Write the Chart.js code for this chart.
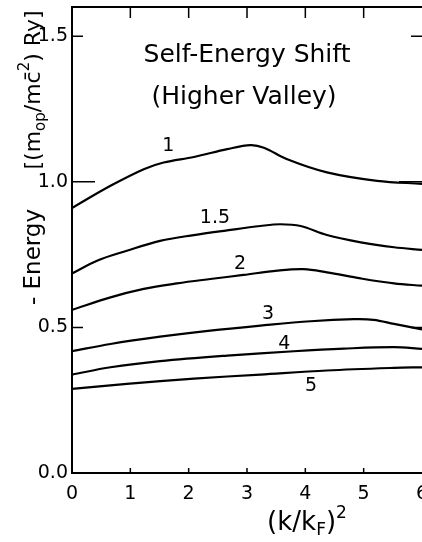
<!DOCTYPE html>
<html>
<head>
<meta charset="utf-8">
<script src="https://cdn.jsdelivr.net/npm/chart.js@4.4.0/dist/chart.umd.min.js"></script>
<style>
body{margin:0;background:#fff}
canvas{display:block}
</style>
</head>
<body>
<canvas id="myChart" width="422" height="542"></canvas>
<script>
// tick values
const xTicks = [0, 1, 2, 3, 4, 5, 6]
const yTicks = [0.0, 0.5, 1.0, 1.5]

// curves: (k/kF)^2 vs -Energy
const curveNames = ['1', '1.5', '2', '3', '4', '5']
const curve1X = [0, 0.66, 1.23, 1.57, 2.09, 2.66, 3.06, 3.29, 3.69, 4.37, 5.23, 6.0]
const curve1Y = [0.91, 0.986, 1.043, 1.066, 1.085, 1.112, 1.126, 1.117, 1.077, 1.032, 1.003, 0.993]
const curve15X = [0, 0.43, 0.94, 1.51, 2.09, 2.66, 3.23, 3.57, 3.92, 4.37, 4.95, 5.52, 6.0]
const curve15Y = [0.685, 0.729, 0.763, 0.797, 0.817, 0.833, 0.848, 0.854, 0.848, 0.817, 0.792, 0.775, 0.766]
const curve2X = [0, 0.66, 1.23, 1.8, 2.37, 2.94, 3.52, 3.97, 4.37, 4.95, 5.52, 6.0]
const curve2Y = [0.56, 0.603, 0.632, 0.651, 0.666, 0.68, 0.695, 0.70, 0.689, 0.668, 0.651, 0.643]
const curve3X = [0, 0.66, 1.51, 2.37, 3.23, 4.09, 4.83, 5.17, 5.52, 6.0]
const curve3Y = [0.418, 0.443, 0.468, 0.489, 0.506, 0.521, 0.528, 0.526, 0.512, 0.493]
const curve4X = [0, 0.66, 1.51, 2.66, 3.8, 4.66, 5.52, 6.0]
const curve4Y = [0.338, 0.363, 0.384, 0.403, 0.418, 0.427, 0.432, 0.426]
const curve5X = [0, 0.94, 2.09, 3.23, 4.37, 5.52, 6.0]
const curve5Y = [0.289, 0.306, 0.324, 0.338, 0.352, 0.361, 0.363]

// where each curve's number sits (data units)
const labelX = [1.65, 2.45, 2.88, 3.36, 3.64, 4.1]
const labelY = [1.123, 0.876, 0.719, 0.547, 0.441, 0.297]

const FONT = '"DejaVu Sans", sans-serif'
Chart.defaults.font.family = FONT
Chart.defaults.color = '#000'

function pts(xs, ys){
    return xs.map((x, i) => ({x: x, y: ys[i]}))
}

const allX = [curve1X, curve15X, curve2X, curve3X, curve4X, curve5X]
const allY = [curve1Y, curve15Y, curve2Y, curve3Y, curve4Y, curve5Y]

// draws text pieces along a line, with sub/superscripts
function drawPieces(ctx, pieces, x, y){
    let w = 0
    for(let p of pieces){
        ctx.font = p.size + 'px ' + FONT
        w += ctx.measureText(p.t).width
    }
    let cx = x - w / 2
    for(let p of pieces){
        ctx.font = p.size + 'px ' + FONT
        ctx.fillText(p.t, cx, y + (p.dy || 0))
        cx += ctx.measureText(p.t).width
    }
}

const decor = {
    id: 'decor',
    afterDraw(chart){
        const ctx = chart.ctx
        const a = chart.chartArea
        const xs = chart.scales.x, ys = chart.scales.y
        ctx.save()
        ctx.strokeStyle = '#000'
        ctx.fillStyle = '#000'

        // top frame line
        ctx.lineWidth = 2
        ctx.beginPath()
        ctx.moveTo(a.left - 1, a.top)
        ctx.lineTo(a.right, a.top)
        ctx.stroke()

        // inward ticks
        ctx.lineWidth = 1.5
        ctx.beginPath()
        for(let v of xTicks.slice(1, -1)){
            const px = xs.getPixelForValue(v)
            ctx.moveTo(px, a.bottom); ctx.lineTo(px, a.bottom - 5)
            ctx.moveTo(px, a.top); ctx.lineTo(px, a.top + 11)
        }
        for(let v of yTicks.slice(1)){
            const py = ys.getPixelForValue(v)
            const len = v === 1.0 ? 23 : 11
            ctx.moveTo(a.left, py); ctx.lineTo(a.left + len, py)
            ctx.moveTo(a.right, py); ctx.lineTo(a.right - len, py)
        }
        ctx.stroke()

        // title
        ctx.textAlign = 'center'
        ctx.textBaseline = 'middle'
        ctx.font = '25px ' + FONT
        ctx.fillText('Self-Energy Shift', 247, 55)
        ctx.fillText('(Higher Valley)', 244, 97)

        // curve numbers
        ctx.font = '19px ' + FONT
        curveNames.forEach((n, i) => {
            ctx.fillText(n, xs.getPixelForValue(labelX[i]), ys.getPixelForValue(labelY[i]))
        })

        // x axis title
        ctx.textAlign = 'left'
        ctx.textBaseline = 'alphabetic'
        drawPieces(ctx, [
            {t: '(k/k', size: 26},
            {t: 'F', size: 17, dy: 5},
            {t: ')', size: 26},
            {t: '2', size: 17, dy: -12}
        ], 307, 530)

        // y axis title, rotated
        ctx.translate(40, 0)
        ctx.rotate(-Math.PI / 2)
        drawPieces(ctx, [{t: '- Energy', size: 23}], -257, 0)
        drawPieces(ctx, [
            {t: '[(m', size: 22},
            {t: 'op', size: 15, dy: 5},
            {t: '/m', size: 22},
            {t: 'c\u0304', size: 22},
            {t: '2', size: 15, dy: -11},
            {t: ') Ry]', size: 22}
        ], -90, 0)
        ctx.restore()
    }
}

window.addEventListener('DOMContentLoaded', () => {
    new Chart(document.getElementById('myChart').getContext('2d'), {
        type: 'line',
        data: {
            datasets: curveNames.map((n, i) => ({
                label: n,
                data: pts(allX[i], allY[i]),
                borderColor: '#000',
                borderWidth: 2.2,
                pointRadius: 0,
                fill: false,
                tension: 0.35
            }))
        },
        options: {
            responsive: false,
            animation: false,
            events: [],
            layout: {padding: {top: 7, right: 0, bottom: 0, left: 0}},
            plugins: {legend: {display: false}, tooltip: {enabled: false}},
            parsing: false,
            scales: {
                x: {
                    type: 'linear',
                    min: 0,
                    max: 6,
                    afterBuildTicks: s => { s.ticks = xTicks.map(v => ({value: v})) },
                    afterFit: s => { s.height = 69; s.paddingRight = 0; s.paddingLeft = 0 },
                    grid: {display: false, drawTicks: false},
                    border: {display: true, color: '#000', width: 2},
                    ticks: {font: {size: 19}, padding: 10, maxRotation: 0, autoSkip: false,
                        callback: v => String(v)}
                },
                y: {
                    type: 'linear',
                    min: 0,
                    max: 1.6,
                    afterBuildTicks: s => { s.ticks = yTicks.map(v => ({value: v})) },
                    afterFit: s => { s.width = 72; s.paddingTop = 0; s.paddingBottom = 0 },
                    grid: {display: false, drawTicks: false},
                    border: {display: true, color: '#000', width: 2},
                    ticks: {font: {size: 19}, padding: 4, autoSkip: false,
                        callback: v => v.toFixed(1)}
                }
            }
        },
        plugins: [decor]
    })
})
</script>
</body>
</html>
